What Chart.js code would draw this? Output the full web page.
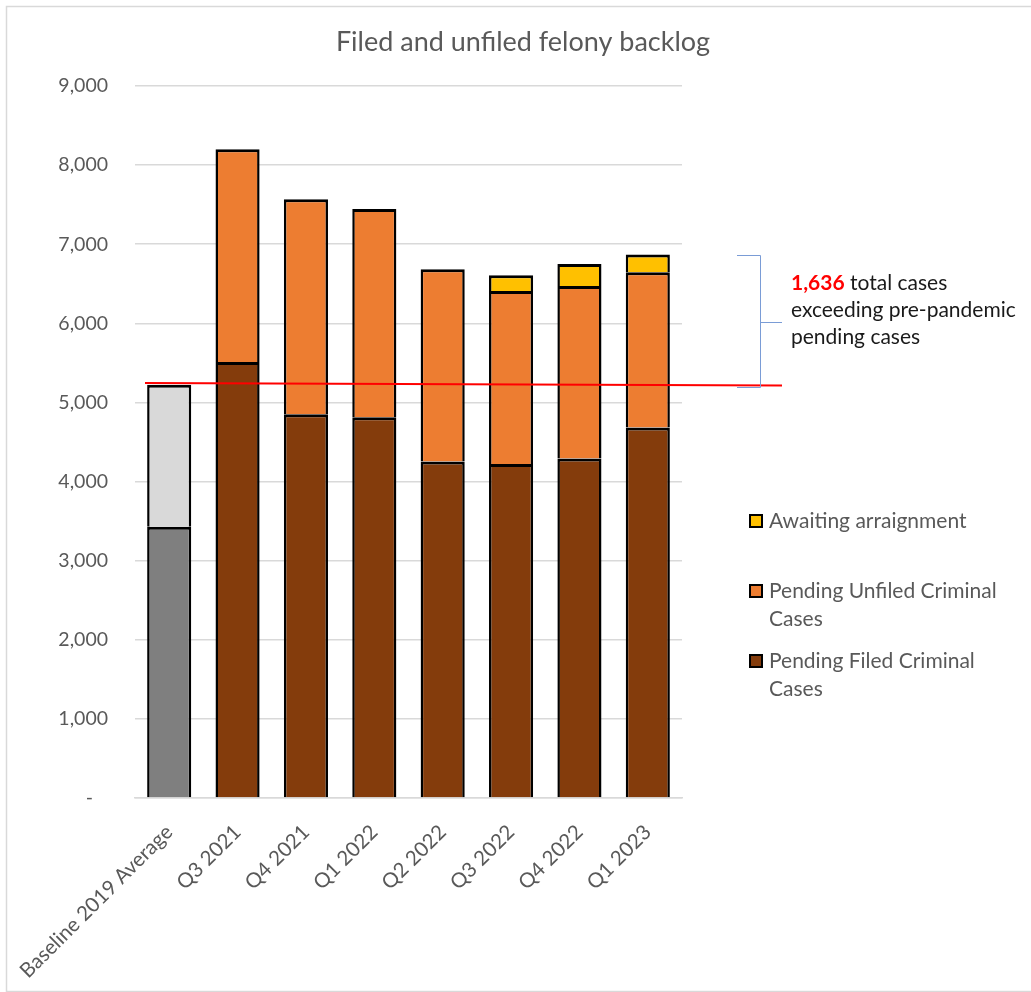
<!DOCTYPE html>
<html>
<head>
<meta charset="utf-8">
<script src="https://cdn.jsdelivr.net/npm/chart.js@4.4.0/dist/chart.umd.min.js"></script>
<style>
  html, body { margin: 0; padding: 0; background: #ffffff; }
  #wrap { width: 1031px; height: 992px; position: relative; }
</style>
</head>
<body>
<div id="wrap"><canvas id="c" width="1031" height="992"></canvas></div>
<script>
// ---- data ----
const categories = ['Baseline 2019 Average', 'Q3 2021', 'Q4 2021', 'Q1 2022', 'Q2 2022', 'Q3 2022', 'Q4 2022', 'Q1 2023'];
const pendingFiled = [3430, 5512, 4851, 4813, 4252, 4222, 4290, 4682];
const pendingUnfiled = [1795, 2690, 2718, 2631, 2432, 2188, 2183, 1964];
const awaitingArraignment = [null, null, null, null, null, 198, 278, 223];
const yTickLabels = ['-', '1,000', '2,000', '3,000', '4,000', '5,000', '6,000', '7,000', '8,000', '9,000'];
const prePandemicLine = [5245, 5215];   // red reference line (left end, right end)
const excessCases = 1636;
const chartTitle = 'Filed and unfiled felony backlog';
const legendItems = [
  { lines: ['Awaiting arraignment'], color: '#FFC000' },
  { lines: ['Pending Unfiled Criminal', 'Cases'], color: '#ED7D31' },
  { lines: ['Pending Filed Criminal', 'Cases'], color: '#843C0C' }
];
const annotationLines = [' total cases', 'exceeding pre-pandemic', 'pending cases'];

const FONT = 'Lato, "Open Sans", sans-serif';
const GRAY_TEXT = '#595959';

const filedColors = categories.map((c, i) => i === 0 ? '#7F7F7F' : '#843C0C');
const unfiledColors = categories.map((c, i) => i === 0 ? '#D9D9D9' : '#ED7D31');
const segBorder = { top: 3, left: 2.5, right: 2.5, bottom: 0 };

const decorPlugin = {
  id: 'decor',
  beforeDraw(chart) {
    const ctx = chart.ctx;
    ctx.save();
    ctx.fillStyle = '#ffffff';
    ctx.fillRect(0, 0, chart.width, chart.height);
    ctx.strokeStyle = '#d9d9d9';
    ctx.lineWidth = 1.5;
    ctx.strokeRect(6.5, 6.5, chart.width + 20, 985);
    ctx.restore();
  },
  afterDraw(chart) {
    const ctx = chart.ctx;
    const y = chart.scales.y;
    ctx.save();
    // title
    ctx.fillStyle = GRAY_TEXT;
    ctx.font = '27px ' + FONT;
    ctx.textAlign = 'center';
    ctx.textBaseline = 'middle';
    ctx.fillText(chartTitle, 523, 42);

    // red reference line
    ctx.strokeStyle = '#FF0000';
    ctx.lineWidth = 2;
    ctx.beginPath();
    ctx.moveTo(145, y.getPixelForValue(prePandemicLine[0]));
    ctx.lineTo(782, y.getPixelForValue(prePandemicLine[1]));
    ctx.stroke();

    // bracket
    const last = categories.length - 1;
    const topVal = (pendingFiled[last] || 0) + (pendingUnfiled[last] || 0) + (awaitingArraignment[last] || 0);
    const yt = Math.round(y.getPixelForValue(topVal)) + 0.5;
    const yb = Math.round(y.getPixelForValue(topVal - excessCases)) + 3.5;
    const ym = Math.round((yt + yb) / 2) + 0.5;
    ctx.strokeStyle = '#7A9CD6';
    ctx.lineWidth = 1;
    ctx.beginPath();
    ctx.moveTo(737, yt); ctx.lineTo(760.5, yt); ctx.lineTo(760.5, yb); ctx.lineTo(737, yb);
    ctx.moveTo(760.5, ym); ctx.lineTo(782, ym);
    ctx.stroke();

    // annotation text
    ctx.textAlign = 'left';
    ctx.textBaseline = 'middle';
    ctx.font = 'bold 21px ' + FONT;
    ctx.fillStyle = '#FF0000';
    const num = excessCases.toLocaleString('en-US');
    ctx.fillText(num, 791, 283);
    const w = ctx.measureText(num).width;
    ctx.font = '21px ' + FONT;
    ctx.fillStyle = '#1a1a1a';
    ctx.fillText(annotationLines[0], 791 + w, 283);
    ctx.fillText(annotationLines[1], 791, 310);
    ctx.fillText(annotationLines[2], 791, 337);

    // legend
    const starts = [521, 591, 661];
    legendItems.forEach((it, i) => {
      const cy = starts[i];
      ctx.fillStyle = it.color;
      ctx.fillRect(750, cy - 6, 12, 12);
      ctx.strokeStyle = '#000000';
      ctx.lineWidth = 2;
      ctx.strokeRect(750, cy - 6, 12, 12);
      ctx.fillStyle = GRAY_TEXT;
      ctx.font = '21px ' + FONT;
      it.lines.forEach((ln, j) => ctx.fillText(ln, 769, cy + j * 28));
    });
    ctx.restore();
  }
};

new Chart(document.getElementById('c'), {
  type: 'bar',
  data: {
    labels: categories,
    datasets: [
      { label: 'Pending Filed Criminal Cases', data: pendingFiled, backgroundColor: filedColors, borderColor: '#000000', borderWidth: segBorder, borderSkipped: false, inflateAmount: 0 },
      { label: 'Pending Unfiled Criminal Cases', data: pendingUnfiled, backgroundColor: unfiledColors, borderColor: '#000000', borderWidth: segBorder, borderSkipped: false, inflateAmount: 0 },
      { label: 'Awaiting arraignment', data: awaitingArraignment, backgroundColor: '#FFC000', borderColor: '#000000', borderWidth: segBorder, borderSkipped: false, inflateAmount: 0 }
    ]
  },
  options: {
    responsive: false,
    animation: false,
    devicePixelRatio: 1,
    layout: { padding: { top: 86, right: 349, left: 0, bottom: 0 } },
    plugins: { legend: { display: false }, title: { display: false }, tooltip: { enabled: false } },
    datasets: { bar: { barPercentage: 0.645, categoryPercentage: 1.0 } },
    scales: {
      x: {
        stacked: true,
        grid: { display: false },
        border: { display: true, color: '#d9d9d9', width: 1.5 },
        ticks: { color: GRAY_TEXT, font: { family: FONT, size: 20.5 }, minRotation: 45, maxRotation: 45, padding: 14, labelOffset: 0 },
        afterFit(s) { s.height = 194; s.paddingLeft = 0; s.paddingRight = 0; }
      },
      y: {
        stacked: true,
        min: 0, max: 9000,
        grid: { color: '#d9d9d9', lineWidth: 1.5, drawTicks: false },
        border: { display: false },
        ticks: {
          stepSize: 1000, padding: 27, color: GRAY_TEXT, font: { family: FONT, size: 19.5 },
          callback: (v, i) => yTickLabels[i] === '-' ? '-   ' : yTickLabels[i]
        },
        afterFit(s) { s.width = 135; }
      }
    }
  },
  plugins: [decorPlugin]
});
</script>
</body>
</html>
